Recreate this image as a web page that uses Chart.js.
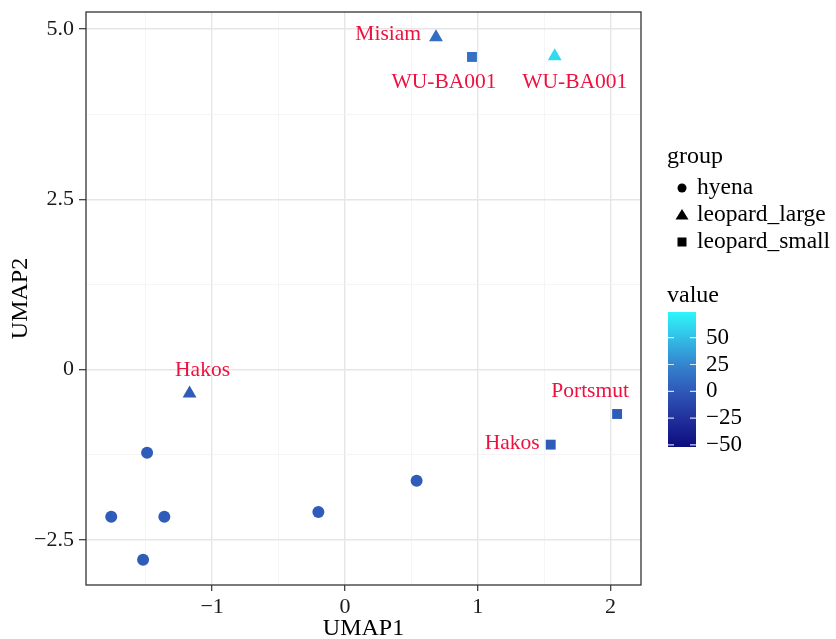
<!DOCTYPE html>
<html>
<head>
<meta charset="utf-8">
<script src="https://cdn.jsdelivr.net/npm/chart.js@4/dist/chart.umd.min.js"></script>
<style>html,body{margin:0;padding:0;background:#fff;}canvas{display:block;}</style>
</head>
<body>
<canvas id="c" width="836" height="639"></canvas>
<script>
// ---- data ----
const hyenaX = [-1.49, -1.76, -1.36, -1.52, -0.20, 0.54];
const hyenaY = [-1.22, -2.16, -2.16, -2.79, -2.09, -1.63];
const hyenaValue = [2, 2, 2, 2, 2, 2];
const hyenaLabel = ['', '', '', '', '', ''];

const largeX = [0.686, 1.58, -1.17];
const largeY = [4.88, 4.60, -0.35];
const largeValue = [12, 62, 2];
const largeLabel = ['Misiam', 'WU-BA001', 'Hakos'];

const smallX = [0.957, 2.05, 1.55];
const smallY = [4.59, -0.65, -1.10];
const smallValue = [14, 2, 2];
const smallLabel = ['WU-BA001', 'Portsmut', 'Hakos'];

const groups = ['hyena', 'leopard_large', 'leopard_small'];
const xMajorTicks = [-1, 0, 1, 2];
const xMinorTicks = [-1.5, -0.5, 0.5, 1.5];
const xTickLabels = ['\u22121', '0', '1', '2'];
const yMajorTicks = [-2.5, 0, 2.5, 5];
const yMinorTicks = [-1.25, 1.25, 3.75];
const yTickLabels = ['\u22122.5', '0', '2.5', '5.0'];
const colorbarTicks = [50, 25, 0, -25, -50];
const colorbarTickLabels = ['50', '25', '0', '\u221225', '\u221250'];
const valueLimits = [-52, 74];

// ---- styles ----
const FONT = '"Liberation Serif", "DejaVu Serif", serif';
const gradStops = [
  [0.0, [12, 12, 126]],
  [0.2, [32, 46, 155]],
  [0.41, [47, 88, 183]],
  [0.6, [52, 130, 205]],
  [0.8, [50, 188, 230]],
  [1.0, [46, 246, 250]]
];
function colorFor(v) {
  let t = (v - valueLimits[0]) / (valueLimits[1] - valueLimits[0]);
  t = Math.max(0, Math.min(1, t));
  for (let i = 1; i < gradStops.length; i++) {
    if (t <= gradStops[i][0]) {
      const a = gradStops[i - 1], b = gradStops[i];
      const f = (t - a[0]) / (b[0] - a[0]);
      const c = a[1].map((x, k) => Math.round(x + (b[1][k] - x) * f));
      return `rgb(${c[0]},${c[1]},${c[2]})`;
    }
  }
  const c = gradStops[gradStops.length - 1][1];
  return `rgb(${c[0]},${c[1]},${c[2]})`;
}
// label placement (pixel offsets from point, alignment)
const labelPlacement = {
  'leopard_large': [[-15, -3, 'right'], [20, 26, 'center'], [13, -23, 'center']],
  'leopard_small': [[-28, 25, 'center'], [-27, -23, 'center'], [-11, -1, 'right']]
};

function pts(xs, ys) { return xs.map((x, i) => ({x: x, y: ys[i]})); }

const datasets = [
  {label: groups[0], data: pts(hyenaX, hyenaY), values: hyenaValue, names: hyenaLabel, pointStyle: 'circle', pointRadius: 6},
  {label: groups[1], data: pts(largeX, largeY), values: largeValue, names: largeLabel, pointStyle: 'triangle', pointRadius: 8},
  {label: groups[2], data: pts(smallX, smallY), values: smallValue, names: smallLabel, pointStyle: 'rect', pointRadius: 7}
].map(d => Object.assign(d, {
  backgroundColor: ctx => colorFor(ctx.dataset.values[ctx.dataIndex]),
  borderWidth: 0,
  pointHoverRadius: d.pointRadius
}));

const overlay = {
  id: 'overlay',
  afterDatasetsDraw(chart) {
    const ctx = chart.ctx, a = chart.chartArea;
    ctx.save();
    ctx.font = '21.5px ' + FONT;
    ctx.fillStyle = '#EE1140';
    ctx.textBaseline = 'middle';
    chart.data.datasets.forEach((ds, di) => {
      const place = labelPlacement[ds.label];
      if (!place) return;
      const meta = chart.getDatasetMeta(di);
      ds.names.forEach((n, i) => {
        if (!n) return;
        const el = meta.data[i];
        const p = place[i];
        ctx.textAlign = p[2];
        ctx.fillText(n, el.x + p[0], el.y + p[1]);
      });
    });
    ctx.restore();
    ctx.save();
    ctx.strokeStyle = '#333333';
    ctx.lineWidth = 1.3;
    ctx.strokeRect(a.left, a.top, a.right - a.left, a.bottom - a.top);
    ctx.restore();
  },
  afterDraw(chart) {
    const ctx = chart.ctx, a = chart.chartArea;
    ctx.save();
    ctx.fillStyle = '#000';
    ctx.font = '24px ' + FONT;
    ctx.textAlign = 'center';
    ctx.textBaseline = 'middle';
    ctx.fillText('UMAP1', (a.left + a.right) / 2, 629);
    ctx.save();
    ctx.translate(21, (a.top + a.bottom) / 2);
    ctx.rotate(-Math.PI / 2);
    ctx.fillText('UMAP2', 0, 0);
    ctx.restore();

    // group legend
    const lx = 667;
    ctx.textAlign = 'left';
    ctx.font = '24px ' + FONT;
    ctx.fillText('group', lx, 157);
    const rowY = [188, 215, 242];
    ctx.font = '23.5px ' + FONT;
    groups.forEach((g, i) => {
      const y = rowY[i], sx = 682;
      ctx.fillStyle = '#000';
      ctx.beginPath();
      if (i === 0) { ctx.arc(sx, y, 4.5, 0, Math.PI * 2); }
      else if (i === 1) { ctx.moveTo(sx, y - 6); ctx.lineTo(sx + 6.5, y + 4.5); ctx.lineTo(sx - 6.5, y + 4.5); ctx.closePath(); }
      else { ctx.rect(sx - 4.5, y - 4.5, 9, 9); }
      ctx.fill();
      ctx.fillText(g, 697, y);
    });

    // colorbar
    ctx.fillStyle = '#000';
    ctx.font = '24px ' + FONT;
    ctx.fillText('value', lx, 296);
    const bx = 668, bw = 28, btop = 312, bbot = 447;
    const vy = v => bbot - (v - valueLimits[0]) / (valueLimits[1] - valueLimits[0]) * (bbot - btop);
    const grad = ctx.createLinearGradient(0, bbot, 0, btop);
    gradStops.forEach(s => grad.addColorStop(s[0], `rgb(${s[1][0]},${s[1][1]},${s[1][2]})`));
    ctx.fillStyle = grad;
    ctx.fillRect(bx, btop, bw, bbot - btop);
    ctx.strokeStyle = 'rgba(255,255,255,0.8)';
    ctx.lineWidth = 1.2;
    ctx.font = '23px ' + FONT;
    colorbarTicks.forEach((v, i) => {
      const y = vy(v);
      ctx.beginPath();
      ctx.moveTo(bx, y); ctx.lineTo(bx + 6, y);
      ctx.moveTo(bx + bw - 6, y); ctx.lineTo(bx + bw, y);
      ctx.stroke();
      ctx.fillStyle = '#000';
      ctx.fillText(colorbarTickLabels[i], 706, y);
    });
    ctx.restore();
  }
};

function setTicks(major, minor) {
  return function (scale) {
    scale.ticks = major.concat(minor).sort((p, q) => p - q).map(v => ({value: v}));
  };
}
function isMajor(list, v) { return list.some(m => Math.abs(m - v) < 1e-9); }

new Chart(document.getElementById('c'), {
  type: 'scatter',
  data: {datasets: datasets},
  options: {
    responsive: false,
    animation: false,
    events: [],
    layout: {padding: {top: 12, right: 195, left: 0, bottom: 0}},
    plugins: {legend: {display: false}, tooltip: {enabled: false}},
    scales: {
      x: {
        type: 'linear', min: -1.95, max: 2.23,
        afterBuildTicks: setTicks(xMajorTicks, xMinorTicks),
        afterFit: s => { s.height = 54; s.paddingLeft = 0; s.paddingRight = 0; },
        border: {display: false},
        grid: {
          color: c => isMajor(xMajorTicks, c.tick.value) ? '#E6E6E6' : '#F3F3F3',
          lineWidth: c => isMajor(xMajorTicks, c.tick.value) ? 1.4 : 0.8,
          tickColor: c => isMajor(xMajorTicks, c.tick.value) ? '#333333' : 'rgba(0,0,0,0)',
          tickLength: 6, tickWidth: 1.2
        },
        ticks: {
          autoSkip: false, maxRotation: 0, padding: 3,
          color: '#1a1a1a', font: {family: FONT, size: 22},
          callback: v => { const i = xMajorTicks.findIndex(m => Math.abs(m - v) < 1e-9); return i >= 0 ? xTickLabels[i] : ''; }
        }
      },
      y: {
        type: 'linear', min: -3.16, max: 5.25,
        afterBuildTicks: setTicks(yMajorTicks, yMinorTicks),
        afterFit: s => { s.width = 86; s.paddingTop = 0; s.paddingBottom = 0; },
        border: {display: false},
        grid: {
          color: c => isMajor(yMajorTicks, c.tick.value) ? '#E6E6E6' : '#F3F3F3',
          lineWidth: c => isMajor(yMajorTicks, c.tick.value) ? 1.4 : 0.8,
          tickColor: c => isMajor(yMajorTicks, c.tick.value) ? '#333333' : 'rgba(0,0,0,0)',
          tickLength: 7, tickWidth: 1.2
        },
        ticks: {
          autoSkip: false, padding: 5,
          color: '#1a1a1a', font: {family: FONT, size: 22},
          callback: v => { const i = yMajorTicks.findIndex(m => Math.abs(m - v) < 1e-9); return i >= 0 ? yTickLabels[i] : ''; }
        }
      }
    }
  },
  plugins: [overlay]
});
</script>
</body>
</html>
